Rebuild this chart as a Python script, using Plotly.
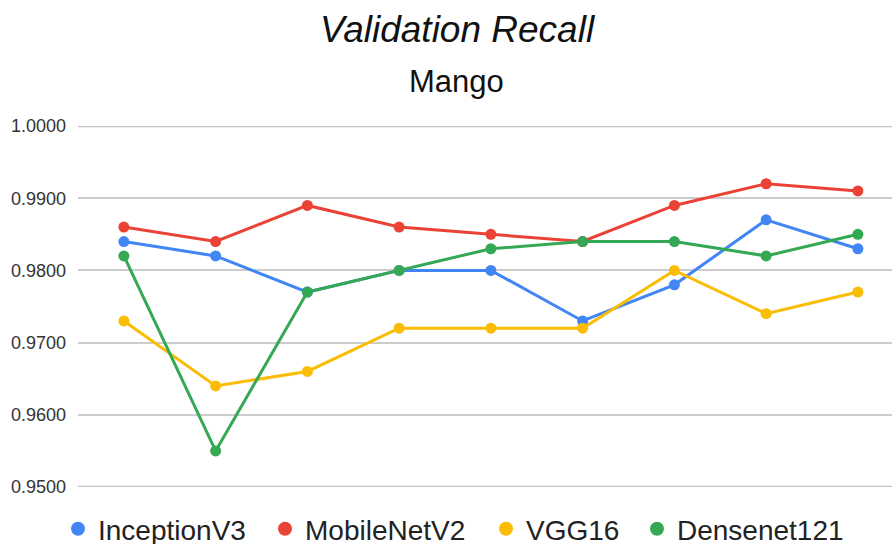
import plotly.graph_objects as go

epochs = ["1", "2", "3", "4", "5", "6", "7", "8", "9"]
inception_v3 = [0.984, 0.982, 0.977, 0.980, 0.980, 0.973, 0.978, 0.987, 0.983]
mobilenet_v2 = [0.986, 0.984, 0.989, 0.986, 0.985, 0.984, 0.989, 0.992, 0.991]
vgg16 = [0.973, 0.964, 0.966, 0.972, 0.972, 0.972, 0.980, 0.974, 0.977]
densenet121 = [0.982, 0.955, 0.977, 0.980, 0.983, 0.984, 0.984, 0.982, 0.985]

series_names = ["InceptionV3", "MobileNetV2", "VGG16", "Densenet121"]
series_values = [inception_v3, mobilenet_v2, vgg16, densenet121]
colors = ["#4285F4", "#EA4335", "#FBBC04", "#34A853"]
y_ticks = [0.95, 0.96, 0.97, 0.98, 0.99, 1.00]

FONT = "Liberation Sans, Arial, sans-serif"
W, H = 892, 544
L, R, T, B = 78, 0, 126, 57
plot_h = H - T - B

legend_ids = ["legend", "legend2", "legend3", "legend4"]
legend_left_px = [58, 265, 486, 637]

fig = go.Figure()
for name, vals, col in zip(series_names, series_values, colors):
    fig.add_trace(go.Scatter(
        x=epochs, y=vals, mode="lines+markers", name=name,
        line=dict(color=col, width=3),
        marker=dict(color=col, size=11),
        showlegend=False,
    ))
for name, col, lid in zip(series_names, colors, legend_ids):
    fig.add_trace(go.Scatter(
        x=[None], y=[None], mode="markers", name=name,
        marker=dict(color=col, size=14),
        showlegend=True, legend=lid,
    ))

legend_layouts = {}
for lid, px in zip(legend_ids, legend_left_px):
    legend_layouts[lid] = dict(
        orientation="h", x=px / W, xanchor="left", xref="container",
        y=1 - 529 / H, yanchor="middle", yref="container",
        font=dict(size=28, color="#222222", family=FONT),
        bgcolor="rgba(0,0,0,0)", borderwidth=0,
        itemclick=False, itemdoubleclick=False,
    )

fig.update_layout(
    width=W, height=H,
    margin=dict(l=L, r=R, t=T, b=B, autoexpand=False),
    paper_bgcolor="white", plot_bgcolor="white",
    font=dict(family=FONT, color="#222222"),
    title=dict(
        text="<i>Validation Recall</i>",
        font=dict(size=37, color="#111111", family=FONT),
        x=457 / W, xanchor="center", xref="container",
        y=1 - 29 / H, yanchor="middle", yref="container",
    ),
    showlegend=True,
    xaxis=dict(
        type="category",
        range=[-0.5, -0.5 + (W - L - R) / 91.75],
        showticklabels=False, showgrid=False, zeroline=False, showline=False,
        ticks="",
    ),
    yaxis=dict(
        range=[0.95, 1.0],
        tickvals=y_ticks,
        tickformat=".4f",
        showgrid=True, gridcolor="#cccccc", gridwidth=1.5,
        zeroline=False, showline=False, ticks="",
        tickfont=dict(size=18, color="#333333", family=FONT),
        ticklabelstandoff=11,
    ),
    annotations=[dict(
        text="Mango", xref="paper", yref="paper",
        x=(456 - L) / (W - L - R), y=1 + (T - 81) / plot_h,
        xanchor="center", yanchor="middle", showarrow=False,
        font=dict(size=31, color="#111111", family=FONT),
    )],
    **legend_layouts,
)

for yv in (y_ticks[0], y_ticks[-1]):
    fig.add_shape(type="line", xref="paper", yref="y", x0=0, x1=1, y0=yv, y1=yv,
                  line=dict(color="#c4c4c4", width=2.5), layer="below")

fig.write_html(
    "out.html",
    config={"displayModeBar": False},
    post_script="document.body.style.margin='0';document.body.style.overflow='hidden';",
)
